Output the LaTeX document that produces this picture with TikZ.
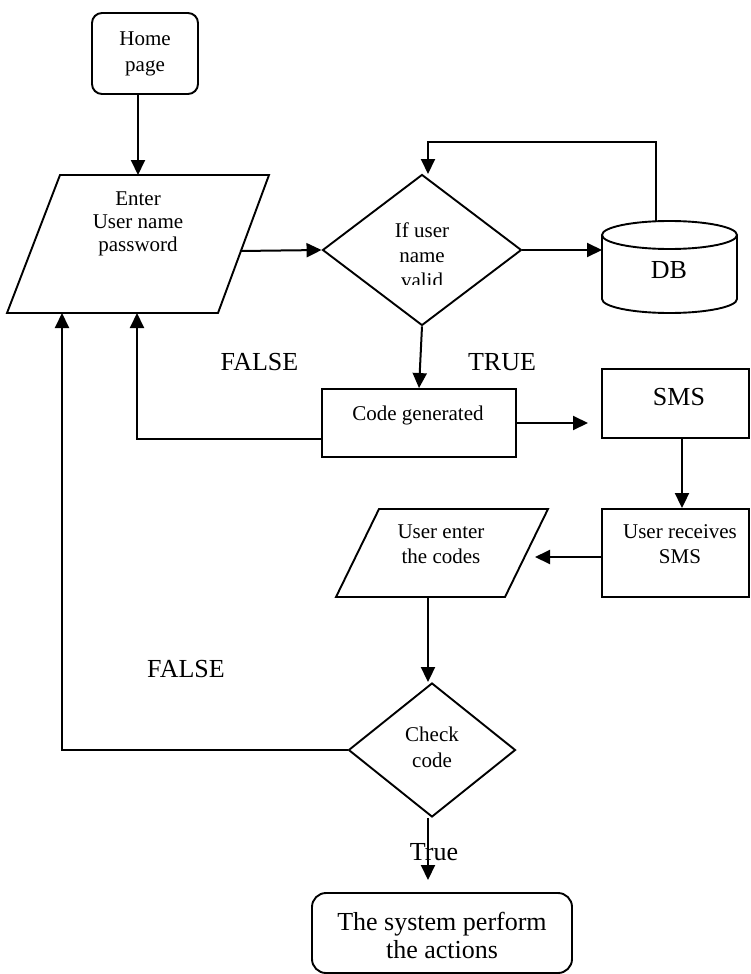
\documentclass[tikz,border=0pt]{standalone}
\usepackage{fontspec}
\setmainfont{Liberation Serif}
\usetikzlibrary{arrows.meta,shapes.geometric}
\begin{document}
\begin{tikzpicture}[x=1pt,y=-1pt,
  arr/.style={line width=2pt,-{Triangle[length=15pt,width=14pt]}},
  shp/.style={draw,line width=1.9pt,inner sep=0pt},
  sm/.style={font=\fontsize{21}{25}\selectfont,align=center,inner sep=0pt,anchor=base},
  lg/.style={font=\fontsize{26}{28}\selectfont,align=center,inner sep=0pt,anchor=base},
]
\useasboundingbox (0,0) rectangle (751,974);

% shapes
\node[shp,rounded corners=10pt,minimum width=106pt,minimum height=81pt] (home) at (145,53.5) {};
\draw[line width=1.9pt] (60,175) -- (269,175) -- (218,313) -- (7,313) -- cycle;
\node[shp,diamond,minimum width=199pt,minimum height=151pt] (d1) at (422,250) {};
\draw[line width=1.9pt] (602,235) -- (602,299) arc[start angle=180,end angle=360,x radius=67.5pt,y radius=14pt] -- (737,235);
\draw[line width=1.9pt] (669.5,235) ellipse[x radius=67.5pt,y radius=14pt];
\node[shp,minimum width=194pt,minimum height=68pt] (code) at (419,423) {};
\node[shp,minimum width=147pt,minimum height=69pt] (sms) at (675.5,403.5) {};
\node[shp,minimum width=147pt,minimum height=88pt] (recv) at (675.5,553) {};
\draw[line width=1.9pt] (379,509) -- (548,509) -- (505,597) -- (336,597) -- cycle;
\node[shp,diamond,minimum width=167pt,minimum height=134pt] (chk) at (432,750) {};
\node[shp,rounded corners=14pt,minimum width=260pt,minimum height=80pt] (fin) at (442,933) {};

% coordinates on free-drawn shapes
\coordinate (e1top) at (138,175);
\coordinate (e1r) at (240,251);
\coordinate (e1b1) at (62,313);
\coordinate (e1b2) at (137,313);
\coordinate (dbl) at (602,250);
\coordinate (dbt) at (656,221);
\coordinate (fbc) at (428,142);
\coordinate (fb) at (428,174);
\coordinate (smsin) at (588,423);
\coordinate (uein) at (535,557);
\coordinate (ueb) at (428,597);
\coordinate (finin) at (428,880);

% texts (base anchor = baseline of the last line)
\node[sm,font=\fontsize{21}{26}\selectfont] (thome) at (145,71) {Home\\page};
\node[sm,font=\fontsize{21}{23}\selectfont] (tenter) at (138,251) {Enter\\User name\\password};
\begin{scope}
\clip (330,200) rectangle (520,284);
\node[sm] (tif) at (422,287) {If user\\name\\valid};
\end{scope}
\node[lg] (tdb) at (669,278) {DB};
\node[lg] (ttrue) at (502,370) {TRUE};
\node[lg] (tfalse1) at (259.5,370) {FALSE};
\node[sm] (tcode) at (418,420) {Code generated};
\node[lg] (tsms) at (679,405) {SMS};
\node[sm] (trecv) at (680,563) {User receives\\SMS};
\node[sm] (tue) at (441,563) {User enter\\the codes};
\node[lg] (tfalse2) at (186,677) {FALSE};
\node[sm,font=\fontsize{21}{26}\selectfont] (tchk) at (432,767) {Check\\code};
\node[lg] (tfin) at (442,958) {The system perform\\the actions};

% connectors
\draw[arr] (e1top |- home.south) -- (e1top);
\draw[arr] (e1r) -- (d1.west);
\draw[arr] (d1.east) -- (dbl);
\draw[arr] (dbt) |- (fbc) -- (fb);
\draw[arr] (d1.south) -- (code.north);
\draw[arr] (code.east) -- (smsin);
\draw[arr] ([xshift=6.5pt]sms.south) -- ([xshift=6.5pt]recv.north);
\draw[arr] (recv.west |- uein) -- (uein);
\draw[arr] (ueb) -- (ueb |- chk.north);
\draw[arr] (chk.west) -| (e1b1);
\draw[arr] ([yshift=-16pt]code.west) -| (e1b2);
\draw[arr] (finin |- chk.south) -- (finin);
\node[lg] (ttrue2) at (434,860) {True};
\end{tikzpicture}
\end{document}
